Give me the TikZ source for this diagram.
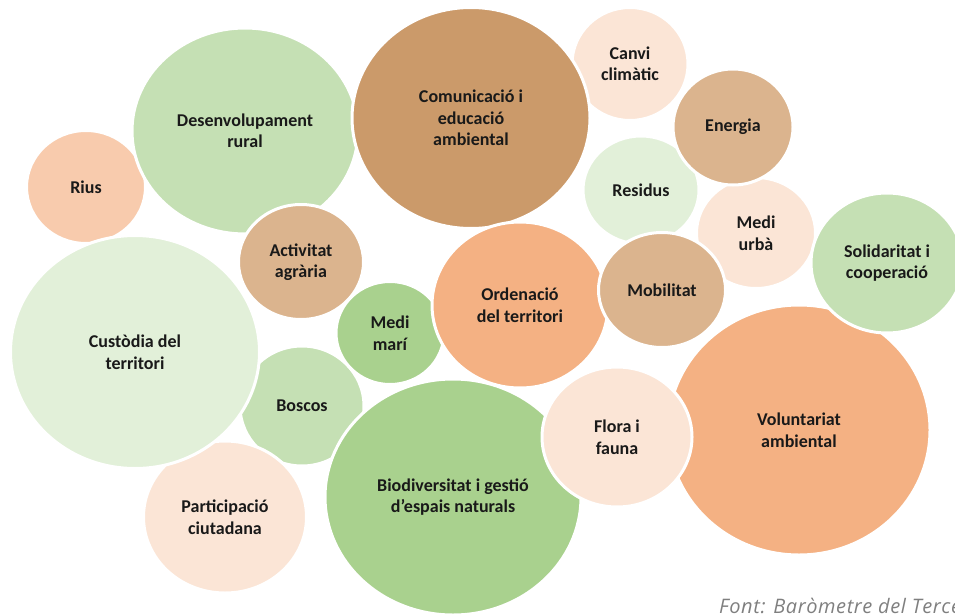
\documentclass[tikz,border=0pt]{standalone}
\usepackage{fontspec}
\setmainfont{Carlito}
\newfontfamily\notefont[LetterSpace=3]{Open Sans}
\usepackage{tikz}
\usetikzlibrary{shapes.geometric}
\definecolor{peach}{RGB}{248,203,173}
\definecolor{paleorange}{RGB}{251,229,214}
\definecolor{orange}{RGB}{244,177,131}
\definecolor{tan}{RGB}{219,180,142}
\definecolor{brown}{RGB}{203,154,106}
\definecolor{palegreen}{RGB}{226,240,217}
\definecolor{sage}{RGB}{197,224,180}
\definecolor{leaf}{RGB}{169,209,142}
\definecolor{notegray}{RGB}{127,127,127}
\tikzset{
  bubble/.style={ellipse,draw=white,line width=3pt,inner sep=0pt,align=center,
    font=\fontsize{18}{21.5}\selectfont\bfseries,text=black!90},
  bsz/.style 2 args={minimum width=#1pt,minimum height=#2pt},
  bpeach/.style={bubble,fill=peach},
  bpale/.style={bubble,fill=paleorange},
  borange/.style={bubble,fill=orange},
  btan/.style={bubble,fill=tan},
  bbrown/.style={bubble,fill=brown},
  bpalegr/.style={bubble,fill=palegreen},
  bsage/.style={bubble,fill=sage},
  bleaf/.style={bubble,fill=leaf},
  note/.style={font=\notefont\itshape\fontsize{20}{24}\selectfont,text=notegray,inner sep=0pt},
}

\begin{document}
\begin{tikzpicture}[x=1pt,y=-1pt]
  \useasboundingbox (0,0) rectangle (955,615);

  % back row
  \node[bpeach,bsz={119}{113}] (rius) at (86,187) {Rius};
  \node[bsage,bsz={226}{206}] (rural) at (245,131) {Desenvolupament\\rural};
  \node[bpale,bsz={116}{113}] (canvi) at (630,64) {Canvi\\climàtic};
  \node[bbrown,bsz={238}{221}] (comu) at (471,118) {Comunicació i\\educació\\ambiental};
  \node[bpalegr,bsz={116}{108}] (residus) at (641,190) {Residus};
  \node[bpale,bsz={119}{111}] (urba) at (756,233) {Medi\\urbà};
  \node[btan,bsz={120}{116}] (energia) at (733,127) {Energia};

  % middle
  \node[bsage,bsz={124}{120}] (boscos) at (302,406) {Boscos};
  \node[bpale,bsz={163}{152}] (partic) at (225,517) {Participació\\ciutadana};
  \node[bpalegr,bsz={249}{233}] (custodia) at (135,352) {Custòdia del\\territori};
  \node[btan,bsz={125}{115}] (agraria) at (301,262) {Activitat\\agrària};
  \node[bleaf,bsz={108}{103}] (mari) at (390,333) {Medi\\marí};
  \node[borange,bsz={176}{166}] (ordena) at (520,305) {Ordenació\\del territori};
  \node[btan,bsz={127}{115}] (mobil) at (662,290) {Mobilitat};

  % front
  \node[borange,bsz={262}{250}] (volunt) at (799,430) {Voluntariat\\ambiental};
  \node[bsage,bsz={152}{140}] (solida) at (887,263) {Solidaritat i\\cooperació};
  \node[bleaf,bsz={256}{236}] (biodiv) at (453,497) {Biodiversitat i gestió\\d’espais naturals};
  \node[bpale,bsz={150}{140}] (flora) at (617,437) {Flora i\\fauna};

  \node[note,anchor=base west] (font) at (719,613) {Font: Baròmetre del Tercer Sector};
\end{tikzpicture}
\end{document}
